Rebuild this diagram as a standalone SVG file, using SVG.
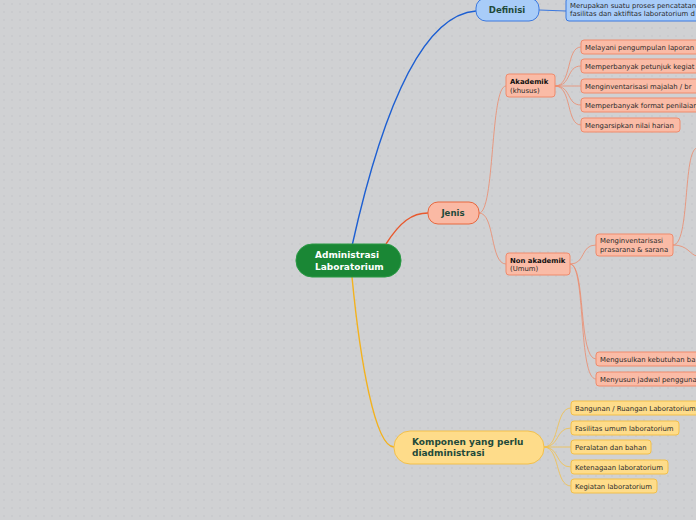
<svg xmlns="http://www.w3.org/2000/svg" width="696" height="520" viewBox="0 0 696 520">
<defs>
<pattern id="dots" width="8" height="8" patternUnits="userSpaceOnUse">
<rect width="8" height="8" fill="#d0d1d3"/>
<circle cx="4" cy="4" r="0.7" fill="#c1c2c5"/>
</pattern>
<style>
text{font-family:"DejaVu Sans","Liberation Sans",sans-serif;}
.sm{font-size:6.9px;fill:#2a2a2a;}
.smb{font-size:6.9px;fill:#111;font-weight:bold;}
.big{font-size:8.6px;font-weight:bold;}
.hub{font-size:9px;font-weight:bold;}
.or{fill:#fabba6;stroke:#ef8b6d;stroke-width:1;}
.yl{fill:#fedc8a;stroke:#f3c04a;stroke-width:1;}
.bl{fill:#a8ccf8;stroke:#3a78e0;stroke-width:1;}
.c{fill:none;}
</style>
</defs>
<rect width="696" height="520" fill="url(#dots)"/>
<g id="connectors">
<path class="c" d="M352,246 C380,120 420,15 476,11" stroke="#1d5fd2" stroke-width="1.4"/>
<path class="c" d="M539,10 L566,11" stroke="#3a78e0" stroke-width="1"/>
<path class="c" d="M386,244 C400,222 412,213 428,213" stroke="#e8592e" stroke-width="1.4"/>
<path class="c" d="M352,277 C360,360 375,447 394,447" stroke="#f3b21e" stroke-width="1.4"/>
<g stroke="#ec8a6c" stroke-width="0.8" fill="none">
<path d="M479,213 C495,213 490,86 506,86"/>
<path d="M479,213 C495,213 490,264 506,264"/>
<path d="M555,86 C572,86 566,47 581,47"/>
<path d="M555,86 C572,86 566,66 581,66"/>
<path d="M555,86 C572,86 566,86 581,86"/>
<path d="M555,86 C572,86 566,105 581,105"/>
<path d="M555,86 C572,86 566,125 581,125"/>
<path d="M570,264 C586,264 580,245 596,245"/>
<path d="M570,264 C586,264 578,359 596,359"/>
<path d="M570,264 C586,264 578,379 596,379"/>
<path d="M673,245 C690,245 683,150 697,148"/>
<path d="M673,245 C688,245 690,255 697,256"/>
</g>
<g stroke="#f3c04a" stroke-width="0.8" fill="none">
<path d="M544,447 C560,447 555,408 571,408"/>
<path d="M544,447 C560,447 555,428 571,428"/>
<path d="M544,447 C560,447 555,447 571,447"/>
<path d="M544,447 C560,447 555,467 571,467"/>
<path d="M544,447 C560,447 555,486 571,486"/>
</g>
</g>
<g id="root">
<rect x="296" y="244" width="105" height="33" rx="16" fill="#1a8735" stroke="#2a9a45"/>
<text class="hub" x="315" y="258" fill="#fff">Administrasi</text>
<text class="hub" x="315" y="270" fill="#fff">Laboratorium</text>
</g>
<g id="definisi">
<rect class="bl" x="476" y="-2" width="63" height="23" rx="10"/>
<text class="big" x="507" y="13" text-anchor="middle" fill="#1f4a3a">Definisi</text>
</g>
<g id="definisi-text">
<rect class="bl" x="566" y="-2" width="140" height="23" rx="3"/>
<text class="sm" x="570" y="8">Merupakan suatu proses pencatatan</text>
<text class="sm" x="570" y="16">fasilitas dan aktifitas laboratorium d</text>
</g>
<g id="jenis">
<rect x="428" y="202" width="51" height="22" rx="10" fill="#fab9a4" stroke="#e8683f"/>
<text class="big" x="453" y="216" text-anchor="middle" fill="#1f4a3a">Jenis</text>
</g>
<g id="akademik">
<rect class="or" x="506" y="74" width="49" height="23" rx="3"/>
<text class="smb" x="510" y="84">Akademik</text>
<text class="sm" x="510" y="93">(khusus)</text>
</g>
<g id="a1"><rect class="or" x="581" y="40" width="130" height="14" rx="3"/><text class="sm" x="585" y="50">Melayani pengumpulan laporan</text></g>
<g id="a2"><rect class="or" x="581" y="59" width="130" height="14" rx="3"/><text class="sm" x="585" y="69">Memperbanyak petunjuk kegiat</text></g>
<g id="a3"><rect class="or" x="581" y="79" width="130" height="14" rx="3"/><text class="sm" x="585" y="89">Menginventarisasi majalah / br</text></g>
<g id="a4"><rect class="or" x="581" y="98" width="130" height="14" rx="3"/><text class="sm" x="585" y="108">Memperbanyak format penilaian</text></g>
<g id="a5"><rect class="or" x="581" y="118" width="99" height="14" rx="3"/><text class="sm" x="585" y="128">Mengarsipkan nilai harian</text></g>
<g id="nonakademik">
<rect class="or" x="506" y="253" width="64" height="22" rx="3"/>
<text class="smb" x="510" y="263">Non akademik</text>
<text class="sm" x="510" y="271">(Umum)</text>
</g>
<g id="n1">
<rect class="or" x="596" y="234" width="77" height="22" rx="3"/>
<text class="sm" x="600" y="243">Menginventarisasi</text>
<text class="sm" x="600" y="252">prasarana &amp; sarana</text>
</g>
<g id="n2"><rect class="or" x="596" y="352" width="115" height="14" rx="3"/><text class="sm" x="600" y="362">Mengusulkan kebutuhan ba</text></g>
<g id="n3"><rect class="or" x="596" y="372" width="115" height="14" rx="3"/><text class="sm" x="600" y="382">Menyusun jadwal pengguna</text></g>
<g id="komponen">
<rect class="yl" x="394" y="431" width="150" height="33" rx="16"/>
<text class="hub" x="412" y="445" fill="#1f4a3a">Komponen yang perlu</text>
<text class="hub" x="412" y="456" fill="#1f4a3a">diadministrasi</text>
</g>
<g id="k1"><rect class="yl" x="571" y="401" width="135" height="14" rx="3"/><text class="sm" x="575" y="411">Bangunan / Ruangan Laboratorium</text></g>
<g id="k2"><rect class="yl" x="571" y="421" width="108" height="14" rx="3"/><text class="sm" x="575" y="431">Fasilitas umum laboratorium</text></g>
<g id="k3"><rect class="yl" x="571" y="440" width="80" height="14" rx="3"/><text class="sm" x="575" y="450">Peralatan dan bahan</text></g>
<g id="k4"><rect class="yl" x="571" y="460" width="97" height="14" rx="3"/><text class="sm" x="575" y="470">Ketenagaan laboratorium</text></g>
<g id="k5"><rect class="yl" x="571" y="479" width="86" height="14" rx="3"/><text class="sm" x="575" y="489">Kegiatan laboratorium</text></g>
</svg>
